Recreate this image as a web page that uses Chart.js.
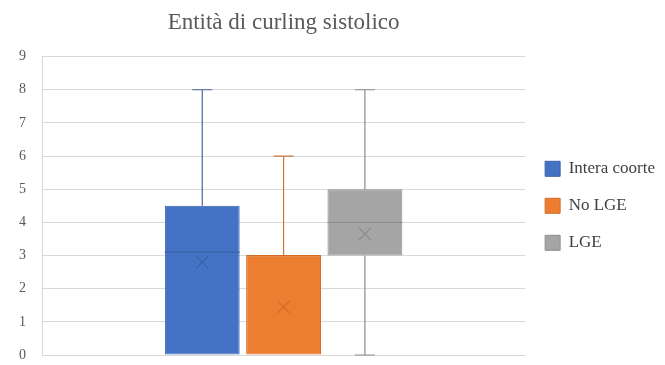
<!DOCTYPE html>
<html>
<head>
<meta charset="utf-8">
<script src="https://cdn.jsdelivr.net/npm/chart.js@4/dist/chart.umd.min.js"></script>
<style>
  html, body { margin: 0; padding: 0; background: #fff; }
  #wrap { width: 665px; height: 365px; position: relative; }
</style>
</head>
<body>
<div id="wrap"><canvas id="box-chart"></canvas></div>
<script>
// box plot values
const categories = [''];
const seriesNames = ['Intera coorte', 'No LGE', 'LGE'];
const minVals = [0, 0, 0];
const q1Vals = [0, 0, 3];
const medianVals = [3.1, 3, 4];
const q3Vals = [4.5, 3, 5];
const maxVals = [8, 6, 8];
const meanVals = [2.8, 1.45, 3.65];
const yTicks = [0, 1, 2, 3, 4, 5, 6, 7, 8, 9];

const fills = ['#4472C4', '#ED7D31', '#A5A5A5'];
const edges = ['#3A62AA', '#CF6B27', '#8E8E8E'];
const whiskerCols = ['#4A669C', '#C8763A', '#8C8C8C'];

const SERIF = '"Liberation Serif", "Times New Roman", serif';

// whiskers, median line and mean cross, placed with the chart's own scales
const boxExtras = {
    id: 'boxExtras',
    afterDatasetsDraw(chart) {
        const ctx = chart.ctx;
        const y = chart.scales.y;
        chart.data.datasets.forEach((ds, i) => {
            const bar = chart.getDatasetMeta(i).data[0];
            if (!bar) return;
            const cx = bar.x, half = bar.width / 2, cap = 10;
            ctx.save();
            ctx.strokeStyle = whiskerCols[i];
            ctx.lineWidth = 1.2;
            const whisker = (from, to) => {
                if (from === to) return;
                ctx.beginPath();
                ctx.moveTo(cx, y.getPixelForValue(from));
                ctx.lineTo(cx, y.getPixelForValue(to));
                ctx.moveTo(cx - cap, y.getPixelForValue(to));
                ctx.lineTo(cx + cap, y.getPixelForValue(to));
                ctx.stroke();
            };
            whisker(q3Vals[i], maxVals[i]);
            whisker(q1Vals[i], minVals[i]);
            // median
            ctx.strokeStyle = edges[i];
            ctx.beginPath();
            const my = y.getPixelForValue(medianVals[i]);
            ctx.moveTo(cx - half, my);
            ctx.lineTo(cx + half, my);
            ctx.stroke();
            // mean
            const ay = y.getPixelForValue(meanVals[i]);
            const s = 6;
            ctx.beginPath();
            ctx.moveTo(cx - s, ay - s); ctx.lineTo(cx + s, ay + s);
            ctx.moveTo(cx + s, ay - s); ctx.lineTo(cx - s, ay + s);
            ctx.stroke();
            ctx.restore();
        });
    }
};

const datasets = seriesNames.map((name, i) => ({
    label: name,
    data: [[q1Vals[i], q3Vals[i]]],
    backgroundColor: fills[i],
    borderColor: edges[i],
    borderWidth: 1,
    borderSkipped: false,
    barPercentage: 0.92,
    categoryPercentage: 0.505,
}));

new Chart(document.getElementById('box-chart'), {
    type: 'bar',
    data: { labels: categories, datasets: datasets },
    options: {
        responsive: true, maintainAspectRatio: false, animation: false,
        events: [],
        layout: { padding: { left: 0, right: 0, top: 0, bottom: 10 } },
        plugins: {
            title: {
                display: true, text: 'Entità di curling sistolico', fullSize: false,
                color: '#595959', font: { family: SERIF, size: 23, weight: 'normal' },
                padding: { top: 9, bottom: 20 },
            },
            legend: {
                position: 'right', fullSize: false,
                labels: {
                    boxWidth: 15, boxHeight: 15, padding: 20, color: '#404040',
                    font: { family: SERIF, size: 17 },
                },
            },
            tooltip: { enabled: false },
        },
        scales: {
            x: { display: false },
            y: {
                min: 0, max: 9,
                afterBuildTicks: axis => { axis.ticks = yTicks.map(v => ({ value: v })); },
                afterFit: axis => { axis.width = 42; axis.paddingBottom = 0; axis.paddingTop = 0; },
                grid: { color: '#D9D9D9', drawTicks: false },
                border: { display: true, color: '#D9D9D9' },
                ticks: { padding: 16, color: '#595959', font: { family: SERIF, size: 14 } },
            },
        },
    },
    plugins: [boxExtras],
});
</script>
</body>
</html>
